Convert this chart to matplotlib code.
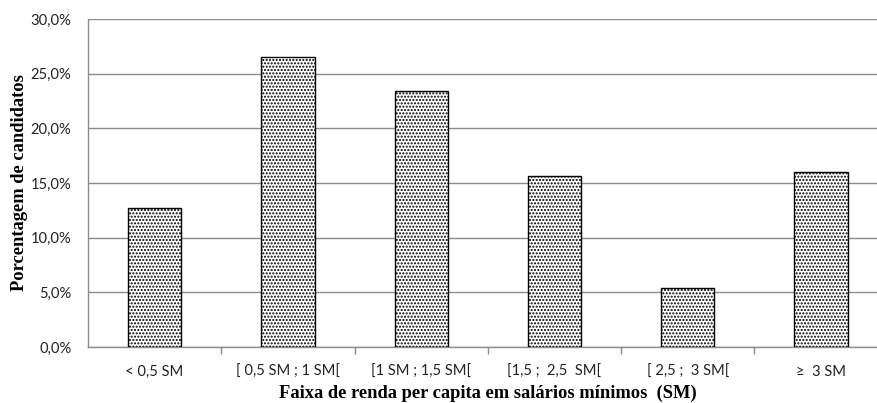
import matplotlib.pyplot as plt
import numpy as np
from matplotlib.ticker import FuncFormatter

FAIXAS = ["< 0,5 SM", "[ 0,5 SM ; 1 SM[", "[1 SM ; 1,5 SM[",
          "[1,5 ;  2,5  SM[", "[ 2,5 ;  3 SM[", "\u2265  3 SM"]
PERCENTUAL = [12.7, 26.5, 23.4, 15.6, 5.4, 16.0]

GRID = "#8c8c8c"
TICK_FONT = "Lato"
LABEL_FONT = "Liberation Serif"

plt.rcParams["hatch.linewidth"] = 1.0
plt.rcParams["hatch.color"] = "#444444"

fig = plt.figure(figsize=(8.77, 4.03), dpi=100)
# plot area runs a little past the right edge of the figure
ax = fig.add_axes([0.1003, 0.139, 0.912, 0.814])

x = np.arange(len(FAIXAS))
ax.bar(x, PERCENTUAL, width=0.4, facecolor="white", edgecolor="black",
       linewidth=1.0, hatch=".....", zorder=3)

ax.set_xlim(-0.5, len(FAIXAS) - 0.5)
ax.set_ylim(0, 30)
ax.set_yticks(np.arange(0, 31, 5))
ax.yaxis.set_major_formatter(
    FuncFormatter(lambda v, _: f"{v:.1f}%".replace(".", ",")))
ax.grid(axis="y", color=GRID, linewidth=1.0, zorder=0)

ax.set_xticks(x)
ax.set_xticklabels(FAIXAS)
ax.set_xticks(np.arange(0.5, len(FAIXAS) - 1, 1), minor=True)
ax.tick_params(axis="x", which="major", length=0, pad=13)
ax.tick_params(axis="x", which="minor", length=5, color=GRID, width=1.0)
ax.tick_params(axis="y", length=0, pad=12)
for lbl in ax.get_xticklabels() + ax.get_yticklabels():
    lbl.set_fontfamily(TICK_FONT)
    lbl.set_fontsize(10.6)
    lbl.set_color("#222222")

for side in ("top", "right"):
    ax.spines[side].set_visible(False)
for side in ("left", "bottom"):
    ax.spines[side].set_color(GRID)
    ax.spines[side].set_linewidth(1.0)

ax.set_xlabel("Faixa de renda per capita em salários mínimos  (SM)",
              fontfamily=LABEL_FONT, fontweight="bold", fontsize=13.3,
              labelpad=4)
ax.set_ylabel("Porcentagem de candidatos", fontfamily=LABEL_FONT,
              fontweight="bold", fontsize=13.3, labelpad=2)

fig.savefig("out.png", dpi=100)
